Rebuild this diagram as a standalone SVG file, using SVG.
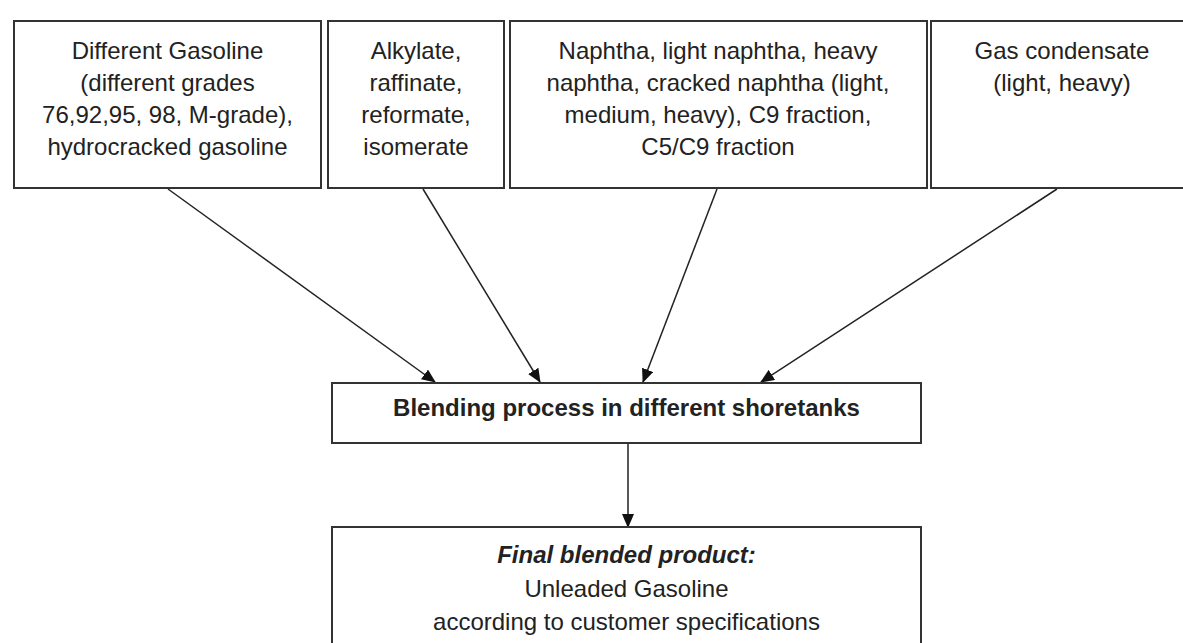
<svg xmlns="http://www.w3.org/2000/svg" width="1183" height="643" viewBox="0 0 1183 643">
<style>
.box{fill:#fff;stroke:#333;stroke-width:2}
.t{font-family:"Liberation Sans",Arial,sans-serif;font-size:24px;fill:#222;text-anchor:middle}
.b{font-weight:bold}
.bi{font-weight:bold;font-style:italic}
.c{stroke:#222;stroke-width:1.5;fill:none;marker-end:url(#ah)}
</style>
<defs>
<marker id="ah" markerWidth="14" markerHeight="12" refX="13" refY="6" orient="auto" markerUnits="userSpaceOnUse" viewBox="0 0 14 12">
<path d="M0,0 L14,6 L0,12 z" fill="#111"/>
</marker>
</defs>
<rect width="1183" height="643" fill="#fff"/>
<g id="connectors">
<line class="c" x1="168" y1="189" x2="435" y2="382"/>
<line class="c" x1="423" y1="189" x2="540" y2="382"/>
<line class="c" x1="717" y1="189" x2="643" y2="382"/>
<line class="c" x1="1057" y1="189" x2="761" y2="382"/>
<line class="c" x1="628" y1="443" x2="628" y2="527"/>
</g>
<g id="n1">
<rect class="box" x="14" y="21" width="307" height="167"/>
<text class="t" x="167.5" y="59">Different Gasoline</text>
<text class="t" x="167.5" y="91">(different grades</text>
<text class="t" x="167.5" y="123">76,92,95, 98, M-grade),</text>
<text class="t" x="167.5" y="155">hydrocracked gasoline</text>
</g>
<g id="n2">
<rect class="box" x="328" y="21" width="176" height="167"/>
<text class="t" x="416" y="59">Alkylate,</text>
<text class="t" x="416" y="91">raffinate,</text>
<text class="t" x="416" y="123">reformate,</text>
<text class="t" x="416" y="155">isomerate</text>
</g>
<g id="n3">
<rect class="box" x="510" y="21" width="417" height="167"/>
<text class="t" x="718" y="59">Naphtha, light naphtha, heavy</text>
<text class="t" x="718" y="91">naphtha, cracked naphtha  (light,</text>
<text class="t" x="718" y="123">medium, heavy), C9 fraction,</text>
<text class="t" x="718" y="155">C5/C9 fraction</text>
</g>
<g id="n4">
<rect class="box" x="931" y="21" width="262" height="167"/>
<text class="t" x="1062" y="59">Gas condensate</text>
<text class="t" x="1062" y="91">(light, heavy)</text>
</g>
<g id="n5">
<rect class="box" x="332" y="383" width="589" height="60"/>
<text class="t b" x="626.5" y="416">Blending process in different shoretanks</text>
</g>
<g id="n6">
<rect class="box" x="332" y="527" width="589" height="130"/>
<text class="t bi" x="626.5" y="563">Final blended product:</text>
<text class="t" x="626.5" y="597">Unleaded Gasoline</text>
<text class="t" x="626.5" y="630">according to customer specifications</text>
</g>
</svg>
